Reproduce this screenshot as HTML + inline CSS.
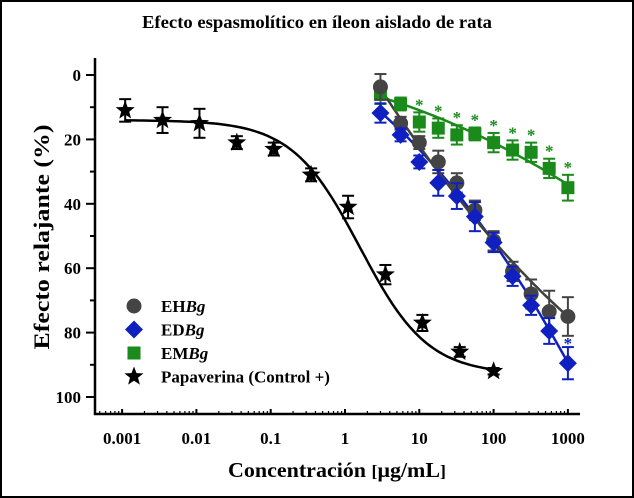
<!DOCTYPE html>
<html><head><meta charset="utf-8"><style>
html,body{margin:0;padding:0;background:#fff}
svg{display:block}
text{font-family:"Liberation Serif",serif;font-weight:bold;fill:#000}
</style></head><body>
<svg id="chart" width="634" height="498" viewBox="0 0 634 498">
<rect x="1" y="1" width="632" height="496" fill="#fff" stroke="#000" stroke-width="2"/>
<text x="317" y="28" font-size="18" text-anchor="middle" textLength="350" lengthAdjust="spacingAndGlyphs">Efecto espasmolítico en íleon aislado de rata</text>
<text x="337" y="477" font-size="21" text-anchor="middle" textLength="218" lengthAdjust="spacingAndGlyphs">Concentración <tspan font-size="17">[</tspan>μg/mL<tspan font-size="17">]</tspan></text>
<text transform="translate(49,237) rotate(-90)" font-size="22" text-anchor="middle" textLength="225" lengthAdjust="spacingAndGlyphs">Efecto relajante (%)</text>
<g id="axes"></g>
<g id="fits"></g>
<g id="marks"></g>
<g id="legend"></g>
</svg>
<script>
const xTicks=[0.001,0.01,0.1,1,10,100,1000];
const xTickLabels=["0.001","0.01","0.1","1","10","100","1000"];
const yTicks=[0,20,40,60,80,100];
const papX=[0.0011,0.0035,0.011,0.035,0.11,0.35,1.1,3.5,11,35,100];
const papY=[11,14,15,21,23,31,41,62,77,86,92];
const papErr=[3.5,4,4.5,2,2,2,3.5,3,2.5,1.5,1];
const extX=[3,5.6,10,18,32,56,100,180,320,560,1000];
const ehY=[3.7,15,21,27,33.5,42,51.5,61,68,73.5,75];
const ehErr=[4,2,2,3.5,3,3,3,3,4.5,6.5,6];
const edY=[11.8,18.6,27,33.5,37.6,44,52,62.5,71.5,79.5,89.5];
const edErr=[3,2,2,4,4,4.5,3,3,3,4,5];
const emY=[6,9,14.6,16.5,18.6,18.3,21,23.3,24,29,35];
const emErr=[3,2,3,3,3,2,3,3,3,3,4];
const emStar=[0,0,1,1,1,1,1,1,1,1,1];
// sigmoid fit params [top,bottom,logEC50,hill]
const papFit=[14,93,0.2,0.95];
// quadratic-in-log fit coefficients [a,b,c]
const ehFit=[-13.5,38.5,-3];
const edFit=[3,15.8,4.33];
const emFit=[3.8,5.67,1.47];

const X0=95,X1=580,YT=58,YB=414;
const sx=v=>345+74.3*Math.log10(v);
const sy=v=>75+3.22*v;
const NS="http://www.w3.org/2000/svg";
function mk(tag,attrs,parent){const e=document.createElementNS(NS,tag);for(const k in attrs)e.setAttribute(k,attrs[k]);parent.appendChild(e);return e;}
const axes=document.getElementById('axes'),fits=document.getElementById('fits'),marks=document.getElementById('marks'),leg=document.getElementById('legend');
let a=mk('line',{x1:X0,y1:YT,x2:X0,y2:YB+1,stroke:'#000','stroke-width':2.5},axes);


a=mk('line',{x1:X0-1,y1:YB,x2:X1,y2:YB,stroke:'#000','stroke-width':2.5},axes);


yTicks.forEach(v=>{
  mk('line',{x1:X0-9,y1:sy(v),x2:X0,y2:sy(v),stroke:'#000','stroke-width':2},axes);
  if(v<100)mk('line',{x1:X0-5,y1:sy(v+10),x2:X0,y2:sy(v+10),stroke:'#000','stroke-width':2},axes);
  const t=mk('text',{x:X0-14,y:sy(v)+6,'font-size':17,'text-anchor':'end'},axes);t.textContent=v;
  
  
});
xTicks.forEach((v,i)=>{
  mk('line',{x1:sx(v),y1:YB-5,x2:sx(v),y2:YB,stroke:'#000','stroke-width':2},axes);
  for(let m=2;m<10;m++){const xv=v*m;if(sx(xv)<X1)mk('line',{x1:sx(xv),y1:YB-3,x2:sx(xv),y2:YB,stroke:'#000','stroke-width':1.2},axes);}
  const t=mk('text',{x:sx(v),y:YB+30,'font-size':17,'text-anchor':'middle'},axes);t.textContent=xTickLabels[i];
  
  
});
for(let m=5;m<10;m++)mk('line',{x1:sx(0.0001*m),y1:YB-3,x2:sx(0.0001*m),y2:YB,stroke:'#000','stroke-width':1.2},axes);

function sigPath(p,lo,hi,color,name){
  let d='';for(let i=0;i<=80;i++){const lx=Math.log10(lo)+(Math.log10(hi)-Math.log10(lo))*i/80;
  const y=p[0]+(p[1]-p[0])/(1+Math.pow(10,(p[2]-lx)*p[3]));d+=(i?'L':'M')+sx(Math.pow(10,lx)).toFixed(1)+','+sy(y).toFixed(1);}
  const e=mk('path',{d:d,fill:'none',stroke:color,'stroke-width':2.5},fits);
  
  
}
function quadPath(p,lo,hi,color,name){
  let d='';for(let i=0;i<=60;i++){const lx=Math.log10(lo)+(Math.log10(hi)-Math.log10(lo))*i/60;
  const y=p[0]+p[1]*lx+p[2]*lx*lx;d+=(i?'L':'M')+sx(Math.pow(10,lx)).toFixed(1)+','+sy(y).toFixed(1);}
  const e=mk('path',{d:d,fill:'none',stroke:color,'stroke-width':2.5},fits);
  
  
}
sigPath(papFit,0.0011,100,'#000','fit-papaverina');
quadPath(emFit,3,1000,'#1a8a1a','fit-em');
quadPath(edFit,3,1000,'#1020c0','fit-ed');
quadPath(ehFit,3,1000,'#404040','fit-eh');

function errbar(x,y,e,color){const g=mk('g',{stroke:color,'stroke-width':2},marks);
  mk('line',{x1:x,y1:sy(y-e),x2:x,y2:sy(y+e)},g);
  mk('line',{x1:x-6,y1:sy(y-e),x2:x+6,y2:sy(y-e)},g);
  mk('line',{x1:x-6,y1:sy(y+e),x2:x+6,y2:sy(y+e)},g);}
function starPts(cx,cy,r){let p=[];for(let i=0;i<10;i++){const rr=i%2?r*0.42:r;const a=-Math.PI/2+i*Math.PI/5;p.push((cx+rr*Math.cos(a)).toFixed(1)+','+(cy+rr*Math.sin(a)).toFixed(1));}return p.join(' ');}
function marker(type,cx,cy,color,parent){
  if(type==='circle')return mk('circle',{cx:cx,cy:cy,r:7.5,fill:color},parent);
  if(type==='diamond')return mk('polygon',{points:`${cx},${cy-9} ${cx+9},${cy} ${cx},${cy+9} ${cx-9},${cy}`,fill:color},parent);
  if(type==='square')return mk('rect',{x:cx-6.5,y:cy-6.5,width:13,height:13,fill:color},parent);
  return mk('polygon',{points:starPts(cx,cy,10),fill:color},parent);
}
function series(xs,ys,es,type,color,name){
  xs.forEach((x,i)=>{errbar(sx(x),ys[i],es[i],color);const m=marker(type,sx(x),sy(ys[i]),color,marks);
    
    });
}
series(extX,emY,emErr,'square','#1a8a1a','em');
series(extX,ehY,ehErr,'circle','#444','eh');
series(extX,edY,edErr,'diamond','#1020c0','ed');
series(papX,papY,papErr,'star','#000','papaverina');
extX.forEach((x,i)=>{if(emStar[i]){const t=mk('text',{x:sx(x),y:sy(emY[i]-emErr[i])-2,'font-size':17,'text-anchor':'middle',style:'fill:#1a8a1a'},marks);t.textContent='*';
  
  }});
{const t=mk('text',{x:sx(1000),y:sy(edY[10]-edErr[10])+2,'font-size':17,'text-anchor':'middle',style:'fill:#1020c0'},marks);t.textContent='*';

}

const legNames=['EH','ED','EM','Papaverina (Control +)'];
const legTypes=['circle','diamond','square','star'];
const legColors=['#444','#1020c0','#1a8a1a','#000'];
legNames.forEach((n,i)=>{const y=306+i*23.5;
  const m=marker(legTypes[i],134,y,legColors[i],leg);
  
  
  const t=mk('text',{x:161,y:y+6,'font-size':17},leg);
  
  
  t.textContent=n;
  if(i<3){const s=mk('tspan',{'font-style':'italic'},t);s.textContent='Bg';}
});
</script>
</body></html>
